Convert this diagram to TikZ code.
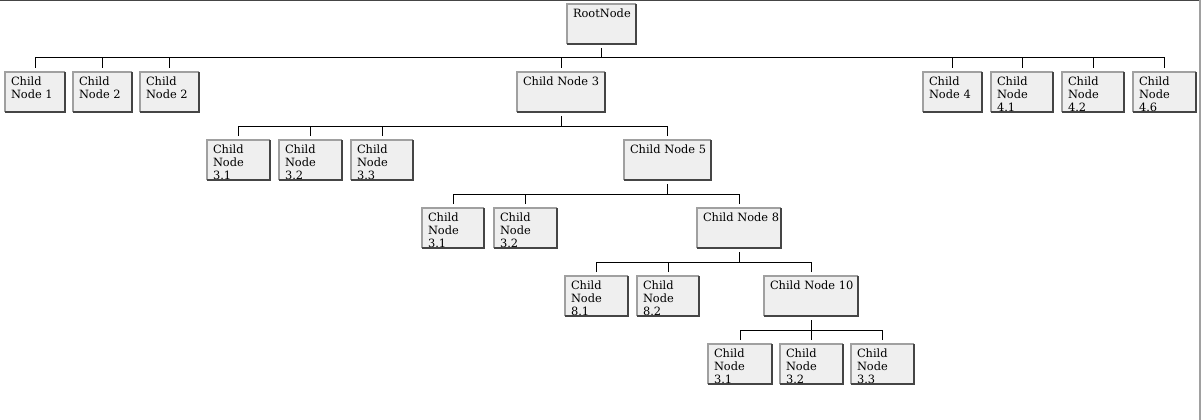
\documentclass[tikz,border=0pt]{standalone}
\usepackage{fontspec}
\setmainfont{DejaVu Serif}
\definecolor{boxfill}{HTML}{EFEFEF}
\definecolor{edgelight}{HTML}{A0A0A0}
\definecolor{edgedark}{HTML}{454545}
\newcommand\treebox[5]{%
  \node[boxbody, minimum width={#3-#2}, anchor=north west] (#1) at (#2,#4) {};
  \node[boxtext, anchor=north west] (#1t) at ([xshift=6pt,yshift=-4.5pt]#1.north west) {#5};
}
\newcommand\treeconn[2]{%
  \draw[conn] ([yshift=-4pt]#1.south) -- ([yshift=-14pt]#1.south);
  \foreach \c in {#2} {\draw[conn] ([yshift=4pt]\c.north) |- ([yshift=-14pt]#1.south);}
}
\begin{document}
\begin{tikzpicture}[x=1pt,y=-1pt,
  boxbody/.style={fill=boxfill, draw=none, inner sep=0pt, outer sep=0pt, minimum height=40pt},
  boxtext/.style={inner sep=0pt, outer sep=0pt, align=left, font=\fontsize{11.4}{13}\selectfont, text=black},
  conn/.style={draw=black, line width=1pt},
  bevlight/.style={draw=edgelight, line width=1.1pt},
  bevdark/.style={draw=edgedark, line width=1.1pt}]
\fill[white] (0,0) rectangle (1202,420);
\useasboundingbox (0,0) rectangle (1202,420);
\draw[draw=edgedark, line width=1.5pt] (0,0) -- (1201,0);
\draw[draw=edgelight, line width=1.5pt] (1200,0) -- (1200,420);
% row 1
\treebox{root}{567}{636}{4}{RootNode}
% row 2
\treebox{n1}{5}{65}{72}{Child\\Node 1}
\treebox{n2}{73}{132}{72}{Child\\Node 2}
\treebox{n2b}{140}{199}{72}{Child\\Node 2}
\treebox{n3}{517}{605}{72}{Child Node 3}
\treebox{n4}{923}{982}{72}{Child\\Node 4}
\treebox{n41}{991}{1053}{72}{Child\\Node\\4.1}
\treebox{n42}{1062}{1124}{72}{Child\\Node\\4.2}
\treebox{n46}{1133}{1196}{72}{Child\\Node\\4.6}
% row 3
\treebox{a31}{207}{270}{140}{Child\\Node\\3.1}
\treebox{a32}{279}{342}{140}{Child\\Node\\3.2}
\treebox{a33}{351}{413}{140}{Child\\Node\\3.3}
\treebox{n5}{624}{711}{140}{Child Node 5}
% row 4
\treebox{b31}{422}{484}{208}{Child\\Node\\3.1}
\treebox{b32}{494}{557}{208}{Child\\Node\\3.2}
\treebox{n8}{697}{781}{208}{Child Node 8}
% row 5
\treebox{c81}{565}{628}{276}{Child\\Node\\8.1}
\treebox{c82}{637}{699}{276}{Child\\Node\\8.2}
\treebox{n10}{764}{858}{276}{Child Node 10}
% row 6
\treebox{d31}{708}{772}{344}{Child\\Node\\3.1}
\treebox{d32}{780}{843}{344}{Child\\Node\\3.2}
\treebox{d33}{851}{914}{344}{Child\\Node\\3.3}
% bevel borders
\foreach \n in {root,n1,n2,n2b,n3,n4,n41,n42,n46,a31,a32,a33,n5,b31,b32,n8,c81,c82,n10,d31,d32,d33} {
  \draw[bevlight] (\n.south west) -- (\n.north west) -- (\n.north east);
  \draw[bevdark] (\n.north east) -- (\n.south east) -- (\n.south west);
}
% connectors
\treeconn{root}{n1,n2,n2b,n3,n4,n41,n42,n46}
\treeconn{n3}{a31,a32,a33,n5}
\treeconn{n5}{b31,b32,n8}
\treeconn{n8}{c81,c82,n10}
\treeconn{n10}{d31,d32,d33}
\end{tikzpicture}
\end{document}
